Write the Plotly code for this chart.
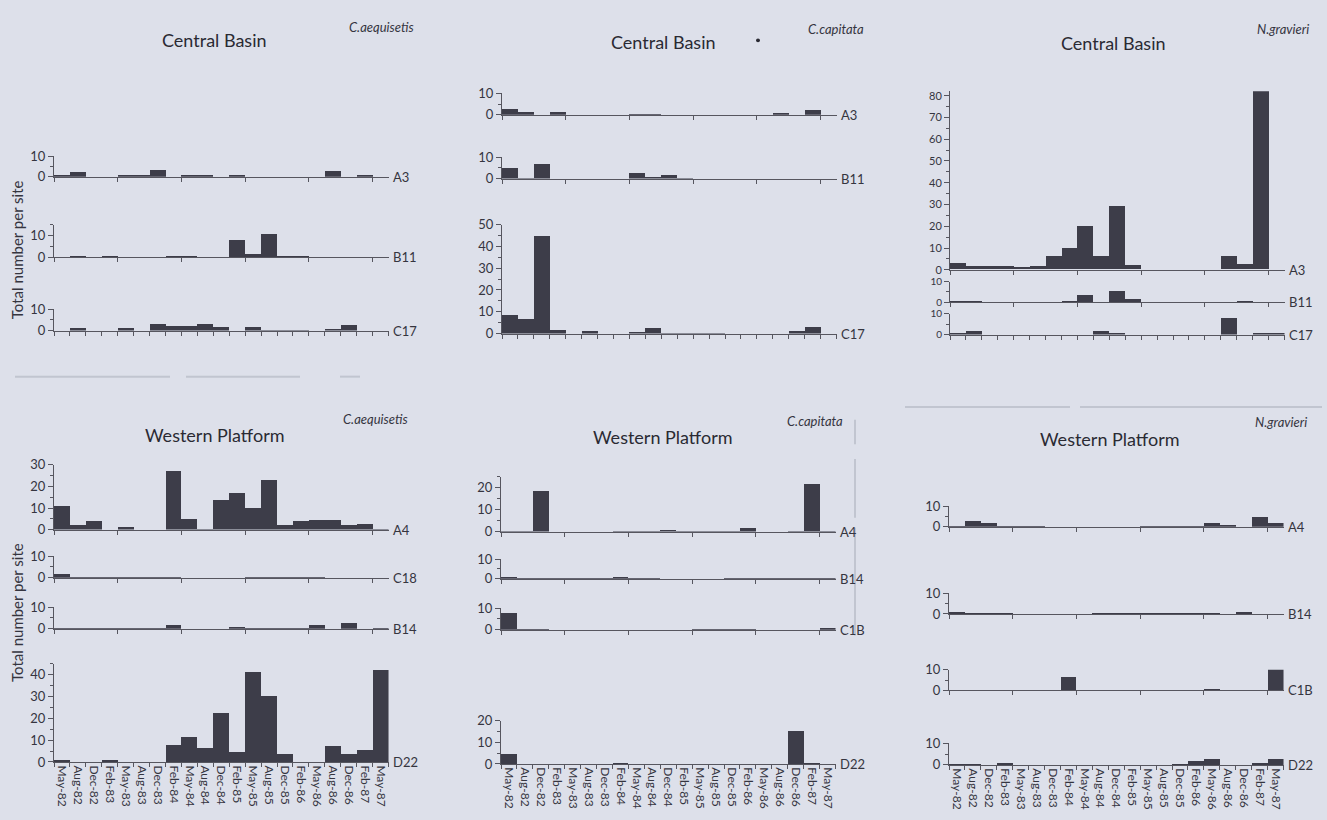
import plotly.graph_objects as go

# ---------------- data ----------------
months = ["May-82", "Aug-82", "Dec-82", "Feb-83", "May-83", "Aug-83", "Dec-83",
          "Feb-84", "May-84", "Aug-84", "Dec-84", "Feb-85", "May-85", "Aug-85",
          "Dec-85", "Feb-86", "May-86", "Aug-86", "Dec-86", "Feb-87", "May-87"]

# Central Basin - C.aequisetis
cb_aeq_A3 = [1, 2, 0, 0, 0.5, 0.5, 3, 0, 0.3, 1, 0, 0.3, 0, 0, 0, 0, 0, 2.5, 0, 0.7, 0]
cb_aeq_B11 = [0, 0.5, 0, 0.5, 0, 0, 0, 0.3, 0.3, 0, 0, 8, 1.5, 11, 0.2, 0.2, 0, 0, 0, 0, 0]
cb_aeq_C17 = [0, 1, 0, 0, 1, 0, 3, 2, 2, 3, 1.8, 0, 1.8, 0.2, 0.2, 0.2, 0, 0.5, 2.7, 0, 0]

# Central Basin - C.capitata
cb_cap_A3 = [2.7, 1, 0, 1, 0, 0, 0, 0, 0.2, 0.2, 0, 0, 0, 0, 0, 0, 0, 0.5, 0, 2.3, 0]
cb_cap_B11 = [4.7, 0.2, 6.8, 0, 0, 0, 0, 0, 2.6, 0.3, 1.8, 0.2, 0, 0, 0, 0, 0, 0, 0, 0, 0]
cb_cap_C17 = [8.7, 6.8, 45, 1.8, 0, 1.5, 0, 0, 0.7, 2.5, 0.2, 0.2, 0.2, 0.2, 0, 0, 0, 0, 1.2, 3.3, 0]

# Central Basin - N.gravieri
cb_gra_A3 = [3, 1.8, 1.8, 1.8, 1, 1.8, 6, 10, 20, 6, 29, 2, 0, 0, 0, 0, 0, 6, 2.7, 82, 0]
cb_gra_B11 = [1, 1, 0, 0, 0, 0, 0, 0.5, 3.8, 0, 5.7, 1.6, 0, 0, 0, 0, 0, 0, 0.6, 0, 0]
cb_gra_C17 = [0.8, 1.8, 0, 0, 0, 0, 0, 0, 0, 1.8, 0.6, 0, 0, 0, 0, 0, 0, 8, 0, 0.6, 0.6]

# Western Platform - C.aequisetis
wp_aeq_A4 = [11, 2.3, 4, 0, 1.2, 0, 0, 27, 5, 0.3, 14, 17, 10, 23, 2, 4, 4.7, 4.7, 2, 2.7, 0.2]
wp_aeq_C18 = [1.5, 0.2, 0.2, 0.2, 0.2, 0.2, 0.2, 0.2, 0, 0, 0, 0, 0.2, 0.2, 0.2, 0.2, 0.2, 0, 0, 0, 0]
wp_aeq_B14 = [0.2, 0.2, 0.2, 0.2, 0.1, 0.1, 0.1, 1.8, 0, 0, 0, 0.8, 0.2, 0.2, 0.2, 0.1, 1.5, 0, 2.4, 0, 0.1]
wp_aeq_D22 = [1, 0, 0, 1, 0, 0, 0, 7.6, 11.7, 6.6, 22.5, 4.8, 41.3, 30.2, 3.6, 0, 0, 7.3, 3.6, 5.4, 42.2]

# Western Platform - C.capitata
wp_cap_A4 = [0.3, 0.3, 18.5, 0, 0, 0, 0, 0.2, 0.2, 0.2, 0.7, 0.2, 0.2, 0.2, 0.2, 1.6, 0, 0, 0.2, 22, 0.3]
wp_cap_B14 = [0.8, 0.2, 0.2, 0.1, 0.1, 0.2, 0.2, 0.8, 0.1, 0.1, 0, 0, 0, 0, 0.1, 0.1, 0.1, 0.1, 0.1, 0.1, 0.1]
wp_cap_C1B = [7.7, 0.2, 0.2, 0, 0, 0, 0, 0, 0, 0, 0, 0, 0.2, 0.2, 0.2, 0.1, 0, 0, 0, 0, 0.5]
wp_cap_D22 = [4.8, 0, 0, 0, 0, 0, 0, 0.1, 0, 0, 0, 0, 0, 0, 0, 0, 0, 0, 15.5, 0.2, 0]

# Western Platform - N.gravieri
wp_gra_A4 = [0.2, 2.9, 1.9, 0.2, 0.2, 0.2, 0, 0, 0, 0, 0, 0, 0.1, 0.1, 0.1, 0.1, 1.6, 0.3, 0, 4.8, 1.6]
wp_gra_B14 = [0.6, 0.2, 0.2, 0.1, 0, 0, 0, 0, 0, 0.1, 0.1, 0.1, 0.1, 0.1, 0.1, 0.1, 0.1, 0, 0.5, 0, 0]
wp_gra_C1B = [0, 0, 0.1, 0.1, 0.1, 0.1, 0.1, 6.8, 0.1, 0.1, 0.1, 0.1, 0, 0, 0, 0, 0.5, 0.1, 0.1, 0.1, 10.8]
wp_gra_D22 = [0.1, 0.1, 0, 0.9, 0, 0, 0, 0, 0, 0, 0, 0, 0, 0, 0.1, 1.7, 2.4, 0, 0, 0.5, 2.4]

# ---------------- layout config ----------------
W, H = 1327, 820
BG = "#dde0ea"
BAR = "#3d3d49"
AX = "#56565f"
TXT = "#35353f"
FONT = "Lato"
BW = 15.93  # pixel width of one category

# rows: (site, values, zero_px, top_px, ymax, tick font size)
panels = [
    dict(x0=54, title="Central Basin", species="C.aequisetis", tx=215, ty=33, sx=381, sy=19, labels=False,
         rows=[("A3", cb_aeq_A3, 172, 151, 10, 13), ("B11", cb_aeq_B11, 254, 221, 15, 13),
               ("C17", cb_aeq_C17, 329, 307, 10, 13)]),
    dict(x0=502, title="Central Basin", species="C.capitata", tx=664, ty=35, sx=836, sy=21, labels=False,
         rows=[("A3", cb_cap_A3, 109, 87, 10, 13), ("B11", cb_cap_B11, 174, 152, 10, 13),
               ("C17", cb_cap_C17, 332, 221, 50, 13)]),
    dict(x0=950, title="Central Basin", species="N.gravieri", tx=1113, ty=36, sx=1283, sy=21, labels=False,
         rows=[("A3", cb_gra_A3, 267, 85, 82, 11), ("B11", cb_gra_B11, 300, 279, 10, 10),
               ("C17", cb_gra_C17, 333, 312, 10, 10)]),
    dict(x0=54, title="Western Platform", species="C.aequisetis", tx=215, ty=436, sx=375, sy=419, labels=True,
         rows=[("A4", wp_aeq_A4, 532, 466, 30, 13), ("C18", wp_aeq_C18, 581, 559, 10, 13),
               ("B14", wp_aeq_B14, 633, 611, 10, 13), ("D22", wp_aeq_D22, 769, 669, 45, 13)]),
    dict(x0=501, title="Western Platform", species="C.capitata", tx=663, ty=438, sx=815, sy=421, labels=True,
         rows=[("A4", wp_cap_A4, 534, 478, 25, 13), ("B14", wp_cap_B14, 582, 562, 10, 13),
               ("C1B", wp_cap_C1B, 634, 612, 10, 13), ("D22", wp_cap_D22, 771, 727, 20, 13)]),
    dict(x0=949, title="Western Platform", species="N.gravieri", tx=1110, ty=440, sx=1281, sy=422, labels=True,
         rows=[("A4", wp_gra_A4, 529, 508, 10, 13), ("B14", wp_gra_B14, 618, 597, 10, 13),
               ("C1B", wp_gra_C1B, 696, 675, 10, 13), ("D22", wp_gra_D22, 772, 750, 10, 13)]),
]

fig = go.Figure()
layout = dict(width=W, height=H, margin=dict(l=0, r=0, t=0, b=0, pad=0),
              paper_bgcolor=BG, plot_bgcolor=BG, showlegend=False,
              font=dict(family=FONT, color=TXT), bargap=0)
annotations = []
n = len(months)
centers = list(range(n))
bounds_all = [i - 0.5 for i in range(n + 1)]
bounds_4 = [i - 0.5 for i in range(0, n, 4)]

k = 0
for p in panels:
    x0 = p["x0"]
    x1 = x0 + n * BW
    for ri, (site, vals, zero_px, top_px, ymax, fsz) in enumerate(p["rows"]):
        k += 1
        sfx = "" if k == 1 else str(k)
        last = ri == len(p["rows"]) - 1
        xa = dict(domain=[x0 / W, x1 / W], range=[-0.5, n - 0.5], anchor="y" + sfx,
                  showline=True, linecolor=AX, linewidth=1, zeroline=False, showgrid=False,
                  tickcolor=AX, tickwidth=1)
        if last and p["labels"]:
            xa.update(tickmode="array", tickvals=centers, ticktext=months, ticks="",
                      tickangle=90, tickfont=dict(size=12, color=TXT, family=FONT),
                      minor=dict(tickmode="array", tickvals=bounds_all, ticks="outside",
                                 ticklen=4, tickcolor=AX, tickwidth=1, showgrid=False))
        else:
            xa.update(tickmode="array", tickvals=bounds_all if last else bounds_4,
                      ticks="outside", ticklen=4, showticklabels=False)
        major = [v for v in range(0, int(ymax) + 1, 10)]
        minor = [v for v in range(5, int(ymax) + 1, 10)]
        ya = dict(domain=[1 - zero_px / H, 1 - top_px / H], range=[0, ymax], anchor="x" + sfx,
                  showline=True, linecolor=AX, linewidth=1, zeroline=False, showgrid=False,
                  tickmode="array", tickvals=major, ticks="outside", ticklen=5,
                  tickcolor=AX, tickwidth=1,
                  tickfont=dict(size=fsz, color=TXT, family=FONT),
                  minor=dict(tickmode="array", tickvals=minor, ticks="outside", ticklen=3,
                             tickcolor=AX, tickwidth=1, showgrid=False))
        layout["xaxis" + sfx] = xa
        layout["yaxis" + sfx] = ya
        fig.add_trace(go.Bar(x=centers, y=vals, width=1.0, xaxis="x" + sfx, yaxis="y" + sfx,
                             marker=dict(color=BAR, line=dict(width=0)), hoverinfo="skip"))
        annotations.append(dict(text=site, x=(x1 + 2) / W, y=1 - zero_px / H, xref="paper", yref="paper",
                                xanchor="left", yanchor="middle", showarrow=False,
                                font=dict(size=13, color=TXT, family=FONT)))
    annotations.append(dict(text=p["title"], x=p["tx"] / W, y=1 - p["ty"] / H, xref="paper", yref="paper",
                            xanchor="center", yanchor="middle", showarrow=False,
                            font=dict(size=18, color="#2a2a33", family=FONT)))
    annotations.append(dict(text="<i>" + p["species"] + "</i>", x=p["sx"] / W, y=1 - p["sy"] / H,
                            xref="paper", yref="paper", xanchor="center", yanchor="middle", showarrow=False,
                            font=dict(size=13, color=TXT, family=FONT)))

for cy in (247, 617):
    annotations.append(dict(text="Total number per site", x=17 / W, y=1 - cy / H, xref="paper", yref="paper",
                            xanchor="center", yanchor="middle", textangle=-90, showarrow=False,
                            font=dict(size=15, color=TXT, family=FONT)))

layout["annotations"] = annotations

# faint scan artefacts
faint = "rgba(190,194,205,0.9)"
shapes = []
for (xa_, ya_, xb_, yb_) in [(15, 376, 170, 376), (186, 376, 300, 376), (340, 376, 360, 376),
                             (905, 407, 1070, 407), (1080, 407, 1322, 407),
                             (855, 420, 855, 445), (855, 460, 855, 520), (855, 530, 855, 640)]:
    shapes.append(dict(type="line", xref="paper", yref="paper", x0=xa_ / W, y0=1 - ya_ / H,
                       x1=xb_ / W, y1=1 - yb_ / H, line=dict(color=faint, width=2)))
shapes.append(dict(type="circle", xref="paper", yref="paper", x0=756 / W, y0=1 - 35 / H,
                   x1=760 / W, y1=1 - 31 / H, fillcolor="#2a2a33", line=dict(width=0)))
layout["shapes"] = shapes

fig.update_layout(**layout)
fig.write_html("out.html", config={"displayModeBar": False},
               post_script="document.body.style.margin='0';document.body.style.padding='0';"
                           "document.body.style.overflow='hidden';document.body.style.background='" + BG + "';")
